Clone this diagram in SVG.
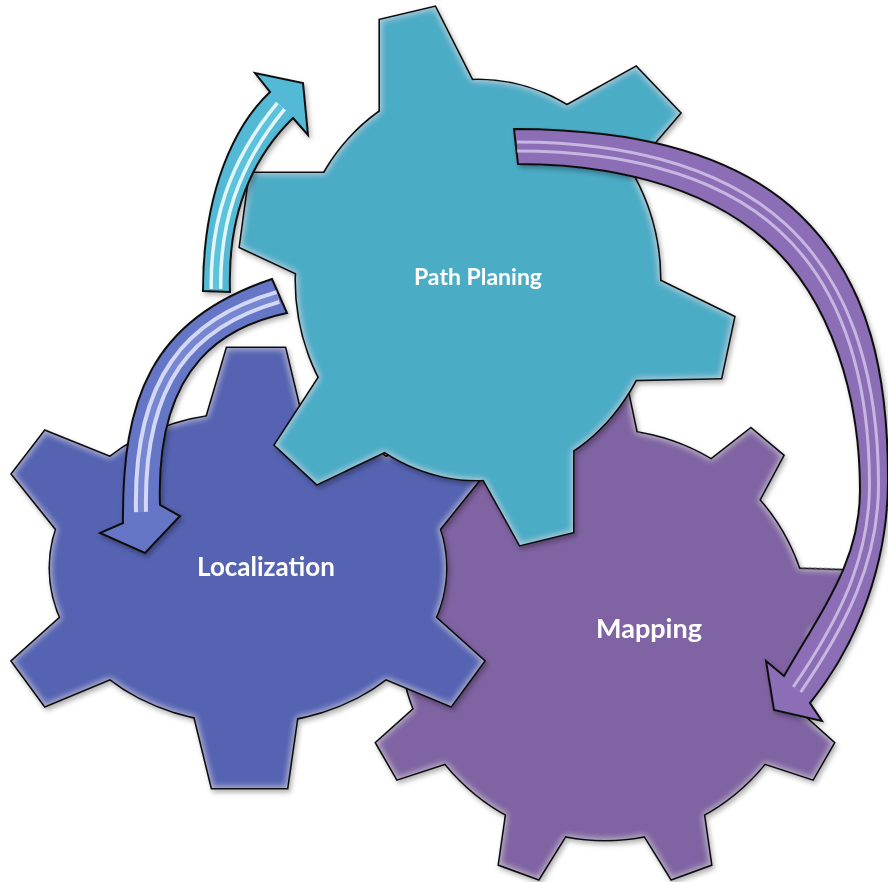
<svg xmlns="http://www.w3.org/2000/svg" width="888" height="882" viewBox="0 0 888 882">
  <defs>
    <style>
      .edge { stroke: #111; stroke-width: 3.2; stroke-linejoin: miter; }
      .lbl { font-family: Lato, "Liberation Sans", sans-serif; font-weight: 700; fill: #fff; text-anchor: middle; }
      .arrow { stroke: #111; stroke-width: 2; stroke-linejoin: miter; }
      .stripe { fill: none; stroke-linecap: butt; }
    </style>
    <filter id="shadow" x="-10%" y="-10%" width="120%" height="120%">
      <feDropShadow dx="2" dy="3" stdDeviation="2.5" flood-color="#000" flood-opacity="0.3"/>
    </filter>
    <!-- pale inner rim that gives the gears a soft bevel -->
    <filter id="rim" x="-10%" y="-10%" width="120%" height="120%">
      <feGaussianBlur in="SourceAlpha" stdDeviation="3.5" result="b"/>
      <feComposite in="SourceAlpha" in2="b" operator="out" result="edgeband"/>
      <feFlood flood-color="#ffffff" flood-opacity="0.5"/>
      <feComposite in2="edgeband" operator="in" result="hl"/>
      <feMerge><feMergeNode in="SourceGraphic"/><feMergeNode in="hl"/></feMerge>
    </filter>

    <!-- Mapping gear: round body, nine teeth every 40 degrees -->
    <polygon id="mtooth" points="190,-34 252,-21 252,21 190,34"/>
    <g id="mapShape">
      <circle cx="605" cy="635" r="205"/>
      <use href="#mtooth" transform="translate(605 635) rotate(-50)"/>
      <use href="#mtooth" transform="translate(605 635) rotate(-10)"/>
      <use href="#mtooth" transform="translate(605 635) rotate(30)"/>
      <use href="#mtooth" transform="translate(605 635) rotate(70)"/>
      <use href="#mtooth" transform="translate(605 635) rotate(110)"/>
      <use href="#mtooth" transform="translate(605 635) rotate(150)"/>
      <use href="#mtooth" transform="translate(605 635) rotate(190)"/>
      <use href="#mtooth" transform="translate(605 635) rotate(230)"/>
      <use href="#mtooth" transform="translate(605 635) rotate(270)"/>
    </g>

    <!-- Localization gear: flattened body, six teeth -->
    <g id="locShape">
      <ellipse cx="248" cy="568" rx="198" ry="155"/>
      <polygon points="227,348 285,348 307,440 200,440"/>
      <polygon points="188,690 301,690 287,788 212,788"/>
      <polygon points="45,431 12,474 65,540 122,462"/>
      <polygon points="12,661 45,706 122,674 80,600"/>
      <polygon points="484,661 451,706 374,674 416,600"/>
      <polygon points="451,431 484,474 431,540 374,462"/>
    </g>

    <!-- Path Planing gear: tall body, six teeth -->
    <g id="pathShape">
      <ellipse cx="478" cy="280" rx="182" ry="200"/>
      <polygon points="380,20 435,7 482,100 380,125"/>
      <polygon points="548,116 636,67 680,113 620,183"/>
      <polygon points="644,273 734,317 721,378 620,380"/>
      <polygon points="573,430 573,532 520,545 471,457"/>
      <polygon points="405,442 317,484 275,445 333,356"/>
      <polygon points="335,173 250,173 240,247 315,282"/>
    </g>
  </defs>

  <rect width="888" height="882" fill="#ffffff"/>

  <g id="mapping">
    <use href="#mapShape" class="edge" fill="#8064A2" filter="url(#shadow)"/>
    <use href="#mapShape" fill="#8064A2" filter="url(#rim)"/>
    <text class="lbl" x="649" y="638" font-size="27">Mapping</text>
  </g>

  <g id="localization">
    <use href="#locShape" class="edge" fill="#5564B2" filter="url(#shadow)"/>
    <use href="#locShape" fill="#5564B2" filter="url(#rim)"/>
    <text class="lbl" x="266" y="576" font-size="26">Localization</text>
  </g>

  <g id="path-planing">
    <use href="#pathShape" class="edge" fill="#4BACC6" filter="url(#shadow)"/>
    <use href="#pathShape" fill="#4BACC6" filter="url(#rim)"/>
    <text class="lbl" x="478" y="285" font-size="23">Path Planing</text>
  </g>

  <g id="connectors">
    <!-- Localization -> Path Planing -->
    <g id="arrow-teal">
      <path class="arrow" fill="#52B9D5" filter="url(#shadow)" d="M203,291 L230,292 C228,235 240,170 293,118 L308,135 L303,83 L255,73 L270,92 C235,125 203,190 203,291 Z"/>
      <path class="stripe" stroke="#f2fdff" stroke-width="13" opacity="0.9" d="M216,289 C215,225 232,165 281,106"/>
      <path class="stripe" stroke="#5cc3dd" stroke-width="6" d="M216,289 C215,225 232,165 281,106"/>
    </g>
    <!-- Path Planing -> Localization -->
    <g id="arrow-blue">
      <path class="arrow" fill="#6676C6" filter="url(#shadow)" d="M272,279 L287,313 C230,325 155,360 160,505 L180,516 L145,553 L100,533 L123,523 C122,400 150,320 272,279 Z"/>
      <path class="stripe" stroke="#e6eaff" stroke-width="14" opacity="0.85" d="M278,297 C190,322 138,380 141,512"/>
      <path class="stripe" stroke="#7786d0" stroke-width="6" d="M278,297 C190,322 138,380 141,512"/>
    </g>
    <!-- Path Planing -> Mapping -->
    <g id="arrow-purple">
      <path class="arrow" fill="#8B6EB5" filter="url(#shadow)" d="M514,129 C614,129 728,146 800,215 C872,284 888,380 888,480 C888,560 860,641 810,703 L822,721 L774,710 L766,661 L784,676 C825,605 860,560 860,490 C860,400 833,299 765,240 C700,183 604,164 518,164 Z"/>
      <path class="stripe" stroke="#efe6ff" stroke-width="12" opacity="0.6" d="M517,146.5 C609,146.5 714,164.5 782.5,227.5 C852.5,291.5 874,390 874,485 C874,560 842.5,623 797,689.5"/>
      <path class="stripe" stroke="#8B6EB5" stroke-width="6" d="M517,146.5 C609,146.5 714,164.5 782.5,227.5 C852.5,291.5 874,390 874,485 C874,560 842.5,623 797,689.5"/>
    </g>
  </g>
</svg>
